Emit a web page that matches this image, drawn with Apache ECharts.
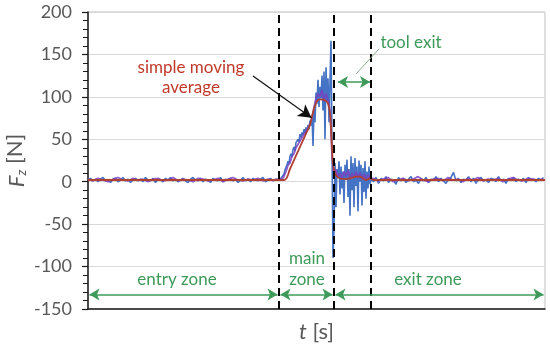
<!DOCTYPE html>
<html><head><meta charset="utf-8">
<script src="https://cdn.jsdelivr.net/npm/echarts@6/dist/echarts.min.js"></script>
<style>html,body{margin:0;padding:0;background:#fff}#c{width:550px;height:347px}</style>
</head><body><div id="c"></div>
<script>
// ---- data (time in s, force Fz in N) ----
// raw signal: entry zone, sampled every 0.25 s from 0 s
const rawEntryStart = 0, rawEntryStep = 0.25;
const rawEntry = [2,4,1,3,0,3,5,1,2,-1,3,4,0,2,5,1,3,-1,2,4,1,3,0,5,2,1,4,-1,3,2,0,4,2,5,1,3,0,2,4,1,-1,3,5,2,1,4,0,3,2,-1,4,2,1,5,0,3,2,4,1,3,-1,2,5,1,3,0,4,2,1,3,5,0,2,4,1,3,2];
// raw signal: main zone + tool exit, sampled every 0.1 s from 19.1 s
const rawMainStart = 19.1, rawMainStep = 0.1;
const rawMain = [3,1,4,2,5,9,14,12,20,24,21,30,33,29,38,41,36,46,44,50,47,56,52,58,55,62,57,64,60,67,62,72,66,78,42,85,70,105,92,120,88,112,98,125,84,130,50,135,95,122,70,118,166,40,-90,-55,22,-30,15,5,24,-15,18,-8,12,-25,20,2,26,-18,15,-40,30,-10,22,-30,28,-5,18,-35,25,0,20,-28,16,-12,24,-20,12,-8,18,-3];
// raw signal: exit zone, sampled every 0.25 s from 28.3 s
const rawExitStart = 28.3, rawExitStep = 0.25;
const rawExit = [3,0,5,-2,4,1,6,-1,3,2,-3,5,1,4,-1,3,6,0,2,-2,4,1,5,-1,3,2,6,0,4,1,-2,3,5,11,1,4,-1,3,2,6,0,4,-2,3,5,1,2,-1,4,3,0,6,1,3,-2,4,2,5,0,3,1,4,-1,5,2,3,0,4,2,5];
// filtered signal (purple)
const filtEntryStart = 0, filtEntryStep = 0.5;
const filtEntry = [3,1,4,2,0,3,5,2,1,4,2,3,0,3,4,1,2,5,1,3,2,0,4,3,1,2,4,0,3,5,2,1,3,2,4,1,3,2,3];
const filtMainStart = 19.2, filtMainStep = 0.2;
const filtMain = [2,3,6,12,19,22,30,33,40,42,48,50,56,58,63,68,75,88,98,104,100,108,95,104,96,85,30,8,14,6,10,4,12,6,14,3,10,5,12,4,11,3,9,2,8,3];
const filtExitStart = 28.5, filtExitStep = 0.5;
const filtExit = [4,1,3,5,0,2,4,1,3,6,2,0,3,4,1,5,2,3,0,4,2,5,1,3,2,4,0,3,5,2,1,4,3,2,3];
// simple moving average (red)
const smaTime = [0,19.6,20.2,20.7,21.2,21.7,22.2,22.5,22.9,23.2,23.7,24.0,24.2,24.3,24.4,24.5,24.7,25.0,25.7,26.2,26.8,27.2,27.8,28.2,28.6,35,45.7];
const smaForce = [2,2,15,28,41,54,67,82,95,97,96,92,80,62,40,22,10,5,3,4,6,6,2,4,2,2,2];
// zone boundaries (s)
const zoneBounds = [19.1, 24.6, 28.3];
const yTicks = {min: -150, max: 200, interval: 50};
const tMax = 45.7;

function seg(t0, dt, vals){ return vals.map((v,i)=>[+(t0 + i*dt).toFixed(3), v]); }
const rawData = seg(rawEntryStart, rawEntryStep, rawEntry).concat(seg(rawMainStart, rawMainStep, rawMain), seg(rawExitStart, rawExitStep, rawExit));
const filtData = seg(filtEntryStart, filtEntryStep, filtEntry).concat(seg(filtMainStart, filtMainStep, filtMain), seg(filtExitStart, filtExitStep, filtExit));
const smaData = smaTime.map((t,i)=>[t, smaForce[i]]);

const FONT = 'Lato';
const green = '#3e9a58';
const chart = echarts.init(document.getElementById('c'), null, {renderer:'canvas'});
const arrowLine = (a, b) => [{coord:a, symbol:'arrow'}, {coord:b, symbol:'arrow'}];

chart.setOption({
  animation: false,
  backgroundColor: '#fff',
  grid: {left: 88, right: 5, top: 12, bottom: 38, show: true, borderColor: '#bfbfbf', borderWidth: 1, containLabel: false, outerBoundsMode: 'none'},
  xAxis: {
    type: 'value', min: 0, max: tMax,
    axisLine: {show: true, onZero: false, lineStyle: {color: '#1a1a1a', width: 1.5}},
    axisTick: {show: false}, axisLabel: {show: false}, splitLine: {show: false},
    name: '{i|t} [s]', nameLocation: 'middle', nameGap: 12, nameMoveOverlap: false,
    nameTextStyle: {color: '#595959', fontFamily: FONT, fontSize: 22, rich: {i: {fontStyle: 'italic', fontSize: 22, color: '#595959', fontFamily: FONT}}}
  },
  yAxis: {
    type: 'value', min: yTicks.min, max: yTicks.max, interval: yTicks.interval,
    axisLine: {show: true, onZero: false, lineStyle: {color: '#1a1a1a', width: 1.5}},
    axisTick: {show: true, inside: false, length: 6, lineStyle: {color: '#1a1a1a', width: 1.2}},
    minorTick: {show: true, splitNumber: 5, length: 5, lineStyle: {color: '#1a1a1a', width: 1}},
    axisLabel: {color: '#595959', fontFamily: FONT, fontSize: 18, margin: 16},
    splitLine: {show: true, lineStyle: {color: '#d9d9d9', width: 1}},
    name: '{i|F}{s|z} [N]', nameLocation: 'middle', nameGap: 60, nameRotate: 90, nameMoveOverlap: false,
    nameTextStyle: {color: '#595959', fontFamily: FONT, fontSize: 22,
      rich: {i: {fontStyle: 'italic', fontSize: 22, color: '#595959', fontFamily: FONT, verticalAlign: 'bottom', lineHeight: 26},
             s: {fontStyle: 'italic', fontSize: 14, color: '#595959', fontFamily: FONT, verticalAlign: 'bottom', lineHeight: 16}}}
  },
  series: [
    {type: 'line', name: 'raw', data: rawData, showSymbol: false, symbol: 'none',
     lineStyle: {color: '#4472c4', width: 1.6}, z: 2,
     markLine: {silent: true, symbol: 'none', label: {show: false},
       lineStyle: {color: '#000', width: 2, type: [8, 5]},
       data: zoneBounds.map(t => ({xAxis: t}))}},
    {type: 'line', name: 'filtered', data: filtData, showSymbol: false, symbol: 'none',
     lineStyle: {color: '#7b3fbf', width: 1.7, opacity: 0.85}, z: 3,
     markLine: {silent: true, label: {show: false}, symbolSize: [9, 10],
       lineStyle: {color: green, width: 1.5, type: 'solid'},
       data: [arrowLine([0.15, -133], [18.95, -133]), arrowLine([19.25, -133], [24.45, -133]),
              arrowLine([24.75, -133], [45.55, -133]), arrowLine([25.0, 117.5], [28.2, 117.5])]}},
    {type: 'line', name: 'simple moving average', data: smaData, showSymbol: false, symbol: 'none', smooth: 0.3,
     lineStyle: {color: '#b0402f', width: 1.8}, z: 4,
     markLine: {silent: true, label: {show: false}, symbolSize: [11, 13],
       data: [
         [{coord: [16.5, 124.6], symbol: 'none', lineStyle: {color: '#111', width: 1.2, type: 'solid'}},
          {coord: [22.35, 75.5], symbol: 'arrow', lineStyle: {color: '#111', width: 1.2, type: 'solid'}}],
         [{coord: [26.8, 126.9], symbol: 'none', lineStyle: {color: '#8fae94', width: 1, type: 'solid'}},
          {coord: [29.1, 156.4], symbol: 'none', lineStyle: {color: '#8fae94', width: 1, type: 'solid'}}]
       ]}}
  ]
});

// annotation texts anchored in data coordinates
const notes = [
  {t: 10.3, v: 135.1, text: 'simple moving', color: '#c0392b'},
  {t: 10.3, v: 110.5, text: 'average', color: '#c0392b'},
  {t: 32.3, v: 163.5, text: 'tool exit', color: green},
  {t: 8.9, v: -115.7, text: 'entry zone', color: green},
  {t: 21.9, v: -90.9, text: 'main', color: green},
  {t: 21.9, v: -115.7, text: 'zone', color: green},
  {t: 34.0, v: -115.7, text: 'exit zone', color: green}
];
chart.setOption({graphic: notes.map(n => {
  const p = chart.convertToPixel({gridIndex: 0}, [n.t, n.v]);
  return {type: 'text', x: p[0], y: p[1], z: 100,
    style: {text: n.text, fill: n.color, font: '17px ' + FONT, textAlign: 'center', textVerticalAlign: 'middle'}};
})});
</script></body></html>
